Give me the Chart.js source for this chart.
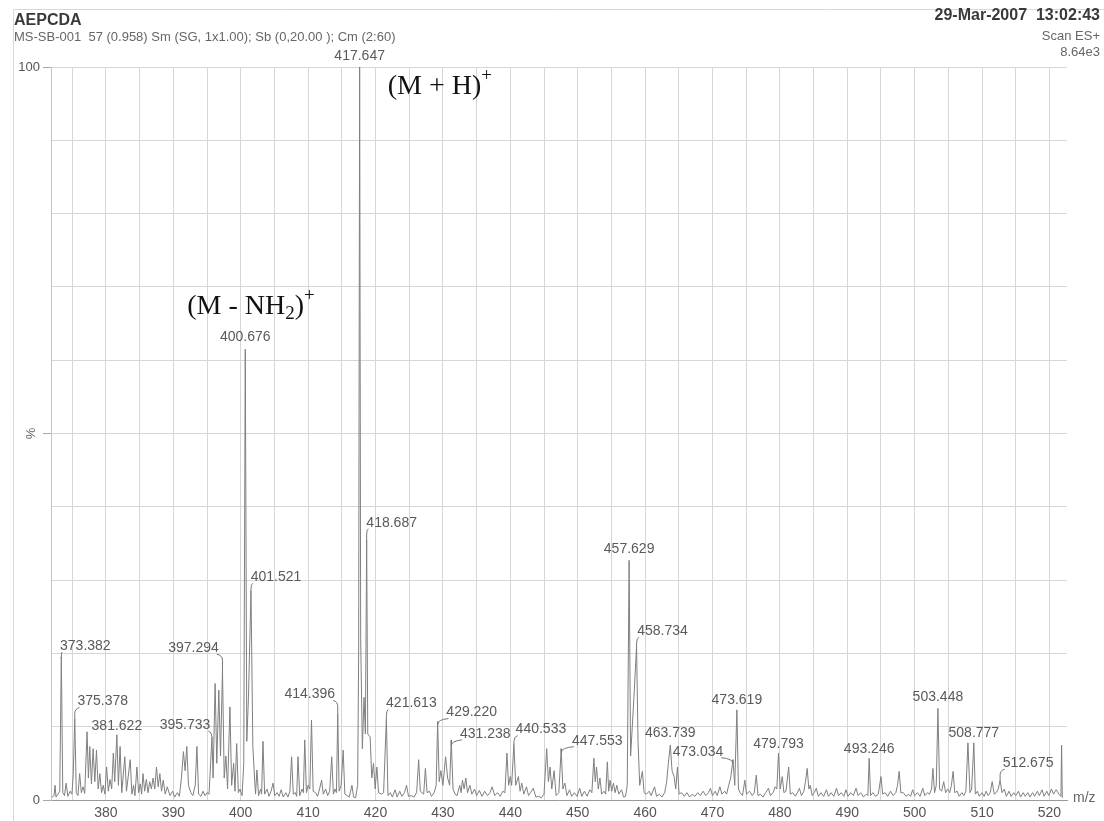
<!DOCTYPE html>
<html>
<head>
<meta charset="utf-8">
<script src="https://cdn.jsdelivr.net/npm/chart.js@4.4.1/dist/chart.umd.min.js"></script>
<style>
  html, body { margin: 0; padding: 0; background: #fff; }
  canvas { display: block; }
</style>
</head>
<body>
<canvas id="spectrum" width="1104" height="821"></canvas>
<script>
// profile trace: [m/z, % of base peak]
const spectrum = [
  [372.0, 0.4], [372.3, 0.6], [372.45, 2.0], [372.6, 0.4], [372.9, 0.8], [373.15, 1.2],
  [373.382, 19.5], [373.6, 1.0], [373.85, 0.6], [374.1, 2.3], [374.35, 0.5], [374.7, 1.2],
  [374.95, 0.8], [375.15, 3.5], [375.378, 11.1], [375.6, 1.0], [375.85, 0.6], [376.1, 3.6],
  [376.35, 1.0], [376.6, 1.8], [376.85, 0.9], [377.2, 9.3], [377.4, 3.0], [377.6, 7.3],
  [377.85, 2.2], [378.1, 7.0], [378.35, 2.5], [378.6, 6.8], [378.85, 1.5], [379.1, 3.6],
  [379.35, 1.0], [379.6, 2.0], [379.85, 0.8], [380.1, 4.5], [380.35, 1.2], [380.6, 2.8],
  [380.85, 1.5], [381.1, 6.4], [381.3, 2.5], [381.622, 8.9], [381.85, 2.0], [382.1, 7.3],
  [382.35, 1.0], [382.8, 5.9], [383.05, 1.2], [383.6, 5.5], [383.85, 0.8], [384.1, 2.0],
  [384.3, 0.6], [384.6, 4.5], [384.85, 1.0], [385.1, 2.2], [385.3, 0.8], [385.5, 3.6],
  [385.75, 1.2], [386.0, 2.8], [386.25, 1.0], [386.5, 2.5], [386.75, 1.5], [387.0, 3.0],
  [387.25, 1.5], [387.5, 4.5], [387.75, 1.8], [388.0, 3.6], [388.25, 1.2], [388.5, 2.7],
  [388.8, 0.8], [389.1, 1.8], [389.5, 0.6], [389.9, 1.2], [390.2, 0.4], [390.6, 1.0],
  [390.9, 0.5], [391.2, 3.0], [391.5, 6.6], [391.75, 4.0], [392.0, 7.3], [392.25, 2.0],
  [392.6, 1.0], [392.9, 0.6], [393.25, 2.0], [393.5, 7.3], [393.75, 0.8], [394.1, 0.5],
  [394.4, 1.2], [394.7, 0.6], [395.0, 1.0], [395.3, 0.8], [395.733, 8.6], [395.9, 3.0],
  [396.2, 15.9], [396.45, 5.0], [396.75, 15.0], [397.0, 6.0], [397.294, 17.7], [397.55, 3.0],
  [397.8, 6.0], [398.05, 1.5], [398.4, 12.7], [398.65, 2.0], [398.95, 5.0], [399.15, 1.2],
  [399.4, 7.7], [399.65, 1.0], [399.9, 1.5], [400.2, 0.6], [400.45, 5.0], [400.676, 61.5],
  [400.9, 8.0], [401.15, 14.0], [401.521, 28.6], [401.8, 7.3], [402.05, 3.0], [402.2, 0.8],
  [402.4, 4.1], [402.65, 0.6], [402.95, 1.5], [403.1, 0.8], [403.3, 8.0], [403.55, 0.8],
  [403.9, 1.5], [404.2, 0.5], [404.5, 1.2], [404.8, 2.3], [405.05, 0.6], [405.4, 1.0],
  [405.7, 0.5], [406.0, 1.4], [406.3, 0.4], [406.7, 1.0], [407.0, 0.4], [407.3, 1.2],
  [407.55, 5.9], [407.8, 0.8], [408.1, 1.0], [408.3, 0.5], [408.5, 5.9], [408.75, 0.6],
  [409.1, 1.5], [409.3, 1.0], [409.5, 8.2], [409.75, 1.0], [410.0, 2.0], [410.25, 1.5],
  [410.5, 10.9], [410.75, 1.2], [411.1, 1.0], [411.4, 0.5], [411.7, 1.5], [412.0, 2.7],
  [412.25, 0.8], [412.6, 1.5], [412.9, 0.6], [413.2, 1.2], [413.5, 5.9], [413.75, 0.8],
  [414.0, 1.5], [414.2, 1.0], [414.396, 11.8], [414.6, 1.2], [414.9, 2.0], [415.2, 6.8],
  [415.45, 0.8], [415.8, 0.6], [416.1, 0.4], [416.5, 2.0], [416.75, 0.4], [417.05, 0.3],
  [417.35, 2.0], [417.5, 20.0], [417.647, 100], [417.8, 22.0], [418.05, 7.0], [418.3, 14.0],
  [418.5, 9.0], [418.687, 35.5], [418.85, 9.0], [419.2, 8.6], [419.45, 3.0], [419.7, 5.0],
  [419.95, 1.5], [420.2, 4.5], [420.45, 1.0], [420.9, 0.8], [421.2, 1.0], [421.613, 11.1],
  [421.85, 0.6], [422.2, 1.0], [422.5, 0.4], [422.9, 1.4], [423.2, 0.4], [423.6, 1.2],
  [423.9, 0.5], [424.3, 1.0], [424.6, 2.0], [424.9, 0.5], [425.3, 0.6], [425.7, 0.4],
  [426.1, 1.0], [426.4, 5.5], [426.65, 1.2], [426.9, 1.0], [427.15, 0.8], [427.4, 4.3],
  [427.65, 1.0], [428.0, 1.2], [428.3, 0.5], [428.7, 1.0], [429.0, 2.0], [429.22, 10.7],
  [429.45, 2.5], [429.7, 4.0], [430.0, 2.0], [430.4, 5.9], [430.7, 3.0], [431.0, 2.0],
  [431.238, 8.2], [431.5, 1.5], [431.8, 0.8], [432.1, 0.6], [432.5, 2.0], [432.7, 1.0],
  [432.9, 2.7], [433.15, 1.5], [433.4, 3.0], [433.65, 1.0], [434.0, 2.0], [434.3, 0.8],
  [434.7, 1.5], [435.0, 0.6], [435.4, 1.3], [435.8, 0.5], [436.2, 1.2], [436.6, 0.6],
  [437.0, 1.0], [437.3, 1.8], [437.7, 0.6], [438.1, 1.0], [438.5, 0.5], [438.9, 1.2],
  [439.2, 1.0], [439.5, 6.4], [439.75, 2.0], [440.0, 3.2], [440.2, 2.0], [440.533, 7.7],
  [440.8, 2.0], [441.2, 3.2], [441.45, 1.2], [441.7, 2.3], [442.0, 0.8], [442.4, 1.8],
  [442.7, 0.6], [443.0, 1.0], [443.4, 1.6], [443.8, 0.4], [444.2, 0.5], [444.6, 0.3],
  [445.0, 0.8], [445.4, 7.0], [445.65, 2.5], [445.9, 4.5], [446.15, 1.5], [446.5, 4.0],
  [446.8, 0.6], [447.2, 1.0], [447.553, 7.0], [447.8, 1.5], [448.1, 2.3], [448.4, 0.6],
  [448.8, 1.4], [449.1, 0.5], [449.5, 1.0], [449.9, 0.5], [450.3, 1.6], [450.6, 0.5],
  [451.0, 1.2], [451.4, 0.5], [451.8, 1.4], [452.1, 1.0], [452.4, 5.7], [452.6, 2.5],
  [452.8, 4.5], [453.05, 1.5], [453.3, 3.0], [453.55, 0.8], [453.9, 1.2], [454.15, 0.8],
  [454.4, 5.2], [454.6, 1.2], [454.8, 2.7], [455.05, 1.2], [455.3, 2.3], [455.55, 1.0],
  [455.8, 2.0], [456.1, 0.8], [456.5, 1.4], [456.8, 0.4], [457.1, 0.5], [457.35, 2.0],
  [457.629, 32.7], [457.85, 6.0], [458.1, 10.0], [458.4, 15.0], [458.734, 21.0], [458.95, 8.0],
  [459.2, 2.0], [459.6, 3.9], [459.85, 1.0], [460.2, 0.8], [460.6, 1.2], [460.9, 0.6],
  [461.4, 1.8], [461.7, 0.5], [462.1, 0.8], [462.5, 0.4], [462.9, 1.0], [463.2, 2.5],
  [463.45, 5.0], [463.739, 7.5], [464.0, 4.0], [464.3, 3.2], [464.55, 1.5], [464.8, 4.5],
  [465.05, 0.8], [465.4, 1.0], [465.8, 0.5], [466.2, 1.0], [466.6, 0.4], [467.0, 0.8],
  [467.4, 0.5], [467.8, 1.0], [468.2, 0.6], [468.6, 1.2], [469.0, 0.6], [469.4, 1.0],
  [469.7, 1.6], [470.0, 0.6], [470.4, 1.2], [470.7, 0.6], [471.1, 1.8], [471.4, 0.8],
  [471.8, 1.2], [472.1, 0.8], [472.4, 2.0], [472.7, 3.0], [473.034, 5.5], [473.3, 2.0],
  [473.619, 12.3], [473.85, 1.5], [474.1, 1.0], [474.45, 0.6], [474.8, 2.7], [475.05, 0.8],
  [475.5, 1.2], [475.9, 0.6], [476.2, 1.0], [476.5, 3.4], [476.75, 0.6], [477.1, 0.8],
  [477.5, 0.4], [477.9, 1.0], [478.3, 1.6], [478.6, 0.6], [479.0, 1.0], [479.3, 1.8],
  [479.55, 1.5], [479.793, 6.4], [480.05, 1.5], [480.35, 3.2], [480.6, 1.0], [480.9, 1.2],
  [481.3, 4.5], [481.55, 0.8], [481.9, 1.0], [482.3, 0.5], [482.6, 1.0], [482.9, 1.6],
  [483.2, 0.6], [483.55, 1.2], [483.8, 2.5], [484.05, 4.3], [484.3, 1.5], [484.5, 2.0],
  [484.8, 0.6], [485.1, 1.0], [485.4, 1.6], [485.7, 0.5], [486.1, 1.0], [486.5, 0.5],
  [486.9, 1.4], [487.2, 0.5], [487.6, 1.0], [488.0, 0.5], [488.4, 1.6], [488.7, 0.6],
  [489.1, 1.0], [489.5, 0.5], [489.8, 1.4], [490.1, 0.5], [490.5, 1.0], [490.9, 0.6],
  [491.3, 1.6], [491.6, 0.6], [492.0, 1.0], [492.4, 0.4], [492.8, 0.8], [493.05, 0.6],
  [493.246, 5.7], [493.45, 0.6], [493.8, 1.0], [494.2, 0.5], [494.6, 0.8], [495.0, 3.2],
  [495.25, 0.8], [495.6, 1.0], [496.0, 0.5], [496.4, 1.2], [496.8, 0.6], [497.2, 1.0],
  [497.45, 2.0], [497.7, 3.9], [497.95, 1.0], [498.3, 1.0], [498.7, 0.5], [499.1, 0.8],
  [499.4, 0.5], [499.7, 1.4], [500.0, 0.6], [500.4, 1.0], [500.8, 0.5], [501.2, 1.6],
  [501.5, 0.6], [501.9, 1.0], [502.2, 0.8], [502.5, 1.5], [502.7, 4.3], [502.95, 1.0],
  [503.2, 2.0], [503.448, 12.5], [503.7, 1.5], [504.0, 1.2], [504.3, 2.5], [504.6, 1.0],
  [504.9, 1.5], [505.2, 1.0], [505.45, 2.0], [505.7, 3.9], [505.95, 1.0], [506.3, 1.2],
  [506.6, 0.5], [507.0, 1.0], [507.3, 0.6], [507.6, 1.2], [507.9, 7.8], [508.2, 1.0],
  [508.45, 1.5], [508.777, 7.8], [509.0, 0.8], [509.3, 1.2], [509.6, 0.5], [510.0, 1.0],
  [510.3, 0.5], [510.6, 1.2], [510.9, 0.6], [511.2, 1.0], [511.5, 2.5], [511.8, 0.8],
  [512.1, 1.0], [512.4, 1.5], [512.675, 2.7], [512.95, 1.0], [513.3, 1.5], [513.6, 0.5],
  [514.0, 1.2], [514.3, 0.5], [514.7, 1.0], [515.0, 0.6], [515.4, 1.2], [515.7, 0.4],
  [516.1, 1.0], [516.4, 0.5], [516.8, 1.0], [517.1, 0.4], [517.5, 1.0], [517.8, 0.5],
  [518.2, 1.2], [518.5, 0.6], [518.9, 1.4], [519.2, 0.5], [519.6, 1.2], [519.9, 0.6],
  [520.3, 1.5], [520.6, 0.8], [521.0, 1.4], [521.4, 0.8], [521.7, 0.5], [521.8, 7.5],
  [521.9, 0.3],
]

// labelled peaks
const peakMz = [
  373.382, 375.378, 381.622, 395.733, 397.294, 400.676, 401.521, 414.396, 417.647,
  418.687, 421.613, 429.22, 431.238, 440.533, 447.553, 457.629, 458.734, 463.739,
  473.034, 473.619, 479.793, 493.246, 503.448, 508.777, 512.675,
]
const peakPct = [
  19.5, 11.1, 8.9, 8.6, 17.7, 61.5, 28.6, 11.8, 100,
  35.5, 11.1, 10.7, 8.2, 7.7, 7.0, 32.7, 21.0, 7.5,
  5.5, 12.3, 6.4, 5.7, 12.5, 7.8, 2.7,
]
// where each label sits relative to its peak top (px)
const labelDx = [24, 28, 0, -27, -29, 0, 25, -28, 0, 25, 25, 34, 34, 27, 36, 0, 26, 0, -35, 0, 0, 0, 0, 0, 28]
const labelDy = [-11, -17, -9, -12, -22, -12, -13, -19, -11, -17, -15, -9, -6, -14, -8, -11, -15, -12, -8, -10, -9, -9, -11, -10, -17]

const xMin = 371.85
const xMax = 522.6
const xGridStep = 5
const xLabelStep = 10
const yLabelled = [0, 100]

const SANS = "'Liberation Sans', Arial, sans-serif"
const SERIF = "'Liberation Serif', 'Times New Roman', serif"
const GRID = '#d6d6d6'

const drawRich = (ctx, parts, x, y) => {
  // parts: [text, size, raise]
  let cx = x
  parts.forEach(([text, size, raise]) => {
    ctx.font = size + 'px ' + SERIF
    ctx.fillText(text, cx, y - raise)
    cx += ctx.measureText(text).width
  })
}

const spectrumDecor = {
  id: 'spectrumDecor',
  beforeDraw(chart) {
    const { ctx, width, height } = chart
    ctx.save()
    ctx.fillStyle = '#fff'
    ctx.fillRect(0, 0, width, height)
    // paper edge
    ctx.strokeStyle = '#d8d8d8'
    ctx.lineWidth = 1
    ctx.beginPath()
    ctx.moveTo(13.5, height)
    ctx.lineTo(13.5, 9.5)
    ctx.lineTo(width, 9.5)
    ctx.stroke()
    ctx.restore()
  },
  afterDraw(chart) {
    const { ctx, chartArea, scales: { x, y } } = chart
    ctx.save()

    // header
    ctx.textBaseline = 'middle'
    ctx.fillStyle = '#3a3a3a'
    ctx.textAlign = 'left'
    ctx.font = 'bold 16px ' + SANS
    ctx.fillText('AEPCDA', 14, 21)
    ctx.fillStyle = '#666'
    ctx.font = '13px ' + SANS
    ctx.fillText('MS-SB-001  57 (0.958) Sm (SG, 1x1.00); Sb (0,20.00 ); Cm (2:60)', 14, 37)
    ctx.textAlign = 'right'
    ctx.fillStyle = '#3a3a3a'
    ctx.font = 'bold 16px ' + SANS
    ctx.fillText('29-Mar-2007  13:02:43', 1100, 16)
    ctx.fillStyle = '#666'
    ctx.font = '13px ' + SANS
    ctx.fillText('Scan ES+', 1100, 36)
    ctx.fillText('8.64e3', 1100, 52)

    // axis captions
    ctx.fillStyle = '#666'
    ctx.font = '14px ' + SANS
    ctx.textAlign = 'left'
    ctx.fillText('m/z', chartArea.right + 6, y.getPixelForValue(0) - 2)
    ctx.save()
    ctx.translate(31, y.getPixelForValue(50))
    ctx.rotate(-Math.PI / 2)
    ctx.textAlign = 'center'
    ctx.font = '13px ' + SANS
    ctx.fillText('%', 0, 0)
    ctx.restore()

    // peak labels
    ctx.font = '14px ' + SANS
    ctx.textAlign = 'center'
    ctx.strokeStyle = '#777'
    ctx.lineWidth = 1
    peakMz.forEach((mz, i) => {
      const px = x.getPixelForValue(mz)
      const py = y.getPixelForValue(peakPct[i])
      const lx = px + labelDx[i]
      const ly = py + labelDy[i]
      ctx.fillStyle = '#5a5a5a'
      ctx.fillText(mz.toFixed(3), lx, ly)
      if (labelDx[i] !== 0) {
        const s = Math.sign(labelDx[i])
        const endX = lx - s * (ctx.measureText(mz.toFixed(3)).width / 2 - 2)
        ctx.beginPath()
        ctx.moveTo(px, py)
        ctx.lineTo(px, ly + 12)
        ctx.quadraticCurveTo(px, ly + 7, endX, ly + 6)
        ctx.stroke()
      }
    })

    // ion assignments
    ctx.fillStyle = '#111'
    ctx.textAlign = 'left'
    ctx.textBaseline = 'alphabetic'
    drawRich(ctx, [['(M + H)', 28, 0], ['+', 19, 13]],
      x.getPixelForValue(417.647) + 28, y.getPixelForValue(96.3))
    drawRich(ctx, [['(M - NH', 28, 0], ['2', 19, -5], [')', 28, 0], ['+', 19, 13]],
      x.getPixelForValue(400.676) - 58, y.getPixelForValue(66.3))

    ctx.restore()
  },
}

const ctxSpectrum = document.getElementById('spectrum').getContext('2d')

const dataSpectrum = {
  datasets: [
    {
      data: spectrum.map(([mz, pct]) => ({ x: mz, y: pct })),
      borderColor: '#808080',
      borderWidth: 1,
      pointRadius: 0,
      tension: 0,
      fill: false,
    },
  ],
}

const configSpectrum = {
  type: 'line',
  data: dataSpectrum,
  options: {
    responsive: false,
    animation: false,
    devicePixelRatio: 1,
    layout: { padding: { top: 67, right: 37, left: 0, bottom: 0 } },
    plugins: {
      legend: { display: false },
      tooltip: { enabled: false },
    },
    scales: {
      x: {
        type: 'linear',
        min: xMin,
        max: xMax,
        afterFit: scale => {
          scale.height = 21
        },
        border: { color: '#9a9a9a' },
        grid: { color: GRID, drawTicks: false },
        ticks: {
          stepSize: xGridStep,
          includeBounds: false,
          autoSkip: false,
          maxRotation: 0,
          padding: 5,
          color: '#555',
          font: { family: SANS, size: 14 },
          callback: value => (value % xLabelStep === 0 ? value : ''),
        },
      },
      y: {
        min: 0,
        max: 100,
        afterFit: scale => {
          scale.width = 51
        },
        border: { color: '#c4c4c4' },
        grid: {
          color: GRID,
          tickLength: 8,
          tickColor: context =>
            context.tick && context.tick.value % 50 === 0 ? '#aaa' : 'rgba(0,0,0,0)',
        },
        ticks: {
          stepSize: 10,
          padding: 3,
          color: '#555',
          font: { family: SANS, size: 13 },
          callback: value => (yLabelled.includes(value) ? String(value) : ''),
        },
      },
    },
  },
  plugins: [spectrumDecor],
}

const spectrumChart = new Chart(ctxSpectrum, configSpectrum)
</script>
</body>
</html>
